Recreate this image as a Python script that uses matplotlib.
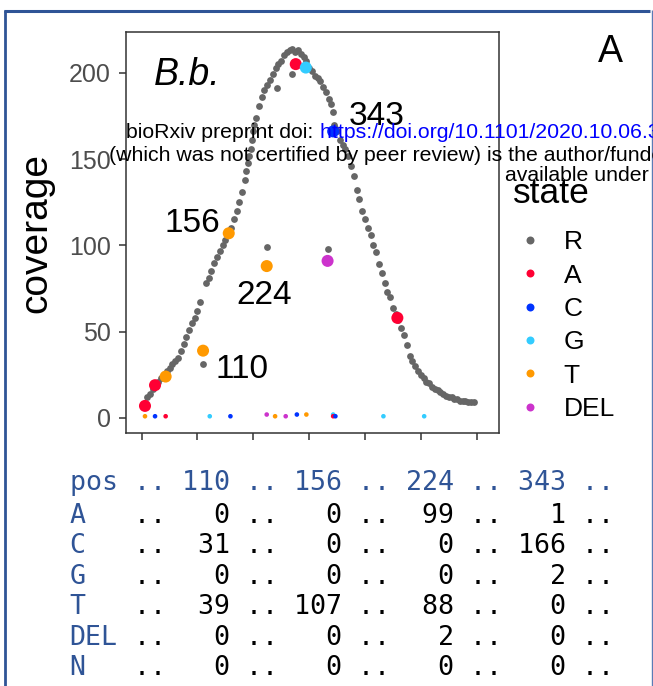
import matplotlib
matplotlib.use('Agg')
import matplotlib.pyplot as plt
import numpy as np

plt.rcParams['font.family'] = ['Liberation Sans', 'DejaVu Sans']

# reference-state coverage (gray dots)
ref_pos = list(range(10, 600, 5)) + [224, 333, 242, 269, 187, 192, 197, 202, 342, 347]
ref_cov = [12, 14, 17, 19, 21, 23, 25, 27, 29, 31,
           33, 35, 39, 43, 47, 51, 55, 58, 62, 67,
           31, 78, 81, 85, 90, 93, 97, 100, 103, 106,
           110, 115, 120, 125, 131, 138, 148, 156, 166, 174,
           181, 186, 190, 193, 196, 199, 203, 205, 207, 210,
           212, 213, 214, 212, 213, 211, 209, 207, 203, 201,
           198, 197, 195, 192, 189, 185, 182, 170, 166, 161,
           158, 156, 152, 146, 140, 132, 127, 120, 115, 110,
           106, 100, 96, 89, 84, 78, 73, 70, 64, 60,
           57, 52, 48, 42, 36, 33, 30, 27, 25, 23,
           21, 20, 18, 17, 16, 15, 14, 13, 12, 12,
           11, 11, 10, 10, 10, 9, 9, 9] + [99, 98, 191, 199, 143, 152, 161, 170, 177, 168]

# non-reference states with large counts
big_state = ['A', 'A', 'T', 'T', 'T', 'T', 'A', 'G', 'DEL', 'C', 'A']
big_pos = [6, 24, 43, 110, 156, 224, 276, 294, 333, 343, 458]
big_cov = [7, 19, 24, 39, 107, 88, 205, 203, 91, 166, 58]

# non-reference states with tiny counts
small_state = ['T', 'C', 'A', 'G', 'C', 'DEL', 'T', 'DEL', 'C', 'T', 'G', 'A', 'C', 'G', 'G']
small_pos = [6, 24, 43, 122, 159, 224, 239, 258, 278, 295, 343, 343, 347, 433, 506]
small_cov = [1, 1, 1, 1, 1, 2, 1, 1, 2, 2, 2, 1, 1, 1, 1]

states = ['R', 'A', 'C', 'G', 'T', 'DEL']
state_colors = {'R': '#666666', 'A': '#FF0033', 'C': '#0033FF',
                'G': '#33CCFF', 'T': '#FF9900', 'DEL': '#CC33CC'}

label_pos = [110, 156, 224, 343]
label_xy = {110: (179, 23), 156: (91, 108), 224: (220, 66), 343: (420, 170)}

# count table under the plot
table_rows = ['A', 'C', 'G', 'T', 'DEL', 'N']
table_counts = {'A': [0, 0, 99, 1],
                'C': [31, 0, 0, 166],
                'G': [0, 0, 0, 2],
                'T': [39, 107, 88, 0],
                'DEL': [0, 0, 2, 0],
                'N': [0, 0, 0, 0]}

W, H = 653, 686
fig = plt.figure(figsize=(W / 100, H / 100), dpi=100)

ax = fig.add_axes([126 / W, 1 - 433 / H, (499 - 126) / W, (433 - 32) / H])
ax.scatter(ref_pos, ref_cov, s=24, color=state_colors['R'], linewidths=0, zorder=2)
ax.scatter(big_pos, big_cov, s=75, c=[state_colors[s] for s in big_state],
           linewidths=0, zorder=3)
ax.scatter(small_pos, small_cov, s=11, c=[state_colors[s] for s in small_state],
           linewidths=0, zorder=4)

for p in label_pos:
    x, y = label_xy[p]
    ax.text(x, y, str(p), fontsize=24, ha='center', va='baseline', zorder=5)
ax.text(81, 193, 'B.b.', fontsize=27, style='italic', ha='center', va='baseline')

ax.set_xlim(-28, 640)
ax.set_ylim(-8.7, 223.6)
ax.set_xticks(range(0, 700, 100))
ax.set_xticklabels([])
ax.set_yticks([0, 50, 100, 150, 200])
ax.tick_params(axis='both', direction='out', length=5, width=1.1, color='#333333')
ax.tick_params(axis='y', labelsize=18, labelcolor='#4D4D4D', pad=6)
for sp in ax.spines.values():
    sp.set_color('#333333')
    sp.set_linewidth(1.1)

# overlay in pixel coordinates for everything outside the panel
ov = fig.add_axes([0, 0, 1, 1])
ov.set_xlim(0, W)
ov.set_ylim(H, 0)
ov.axis('off')
ov.patch.set_alpha(0)

ov.text(36, 233, 'coverage', fontsize=28, rotation=90, ha='center', va='center')
ov.text(610, 62, 'A', fontsize=27, ha='center', va='baseline')

# legend
ov.text(513, 203, 'state', fontsize=25.5, ha='left', va='baseline')
leg_y = [240, 273.3, 306.7, 340, 373.3, 406.7]
for st, y in zip(states, leg_y):
    ov.scatter([530], [y], s=33, color=state_colors[st], linewidths=0)
    ov.text(563.5, y + 9.4, st, fontsize=19, ha='left', va='baseline')

# preprint banner on top
ov.text(126, 138, 'bioRxiv preprint doi:', fontsize=15.3, va='baseline')
ov.text(320.5, 138, 'https://doi.org/10.1101/2020.10.06.328880; this version posted',
        fontsize=15.3, color='#0000FF', va='baseline')
ov.text(109, 161, '(which was not certified by peer review) is the author/funder',
        fontsize=15.3, va='baseline')
ov.text(505, 181, 'available under aCC-BY', fontsize=15.3, va='baseline')

# table
mono = 'DejaVu Sans Mono'
tab_blue = '#2F5496'
x0 = 69.5
header = 'pos ' + ''.join('.. %3d ' % p for p in label_pos) + '..'
ov.text(x0, 490, header, family=mono, fontsize=19.2, color=tab_blue, va='baseline')
row_y = [523, 553, 584, 614, 645, 675]
for lab, y in zip(table_rows, row_y):
    rest = ' ' * 4 + ''.join('.. %3d ' % v for v in table_counts[lab]) + '..'
    ov.text(x0, y, rest, family=mono, fontsize=19.2, color='black', va='baseline')
    ov.text(x0, y, lab, family=mono, fontsize=19.2, color=tab_blue, va='baseline')

# page frame
ov.plot([4, 650], [11, 11], color=tab_blue, lw=2.2, solid_capstyle='butt')
ov.plot([5, 5], [10, H], color=tab_blue, lw=2.0, solid_capstyle='butt')
ov.plot([651.5, 651.5], [10, H], color='#5B7BB5', lw=1.0, solid_capstyle='butt')

fig.savefig('out.png', dpi=100)
plt.close()
